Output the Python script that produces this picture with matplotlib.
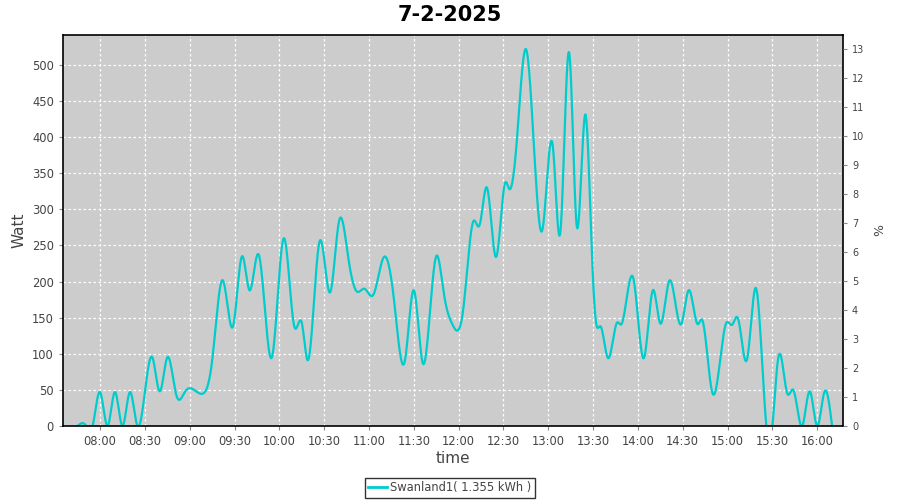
import numpy as np
import matplotlib
matplotlib.use("Agg")
import matplotlib.pyplot as plt
from matplotlib.lines import Line2D

# ---- data ----
times = ["07:45", "07:50", "07:55", "08:00", "08:05", "08:10", "08:15", "08:20", "08:25",
         "08:35", "08:40", "08:45", "08:51", "08:57", "09:05", "09:09", "09:15", "09:22",
         "09:29", "09:35", "09:40", "09:46", "09:55", "10:03", "10:10", "10:15", "10:19",
         "10:27", "10:34", "10:40", "10:46", "10:52", "10:57", "11:03", "11:10", "11:17", "11:24",
         "11:30", "11:36", "11:45", "11:50", "11:56", "12:03", "12:07", "12:10", "12:14", "12:19",
         "12:25", "12:31", "12:34", "12:39", "12:45", "12:56", "13:03", "13:08", "13:14",
         "13:19", "13:25", "13:29", "13:32", "13:35", "13:40", "13:46", "13:49", "13:57", "14:04",
         "14:10", "14:15", "14:21", "14:29", "14:34", "14:40", "14:43", "14:50", "14:59",
         "15:03", "15:07", "15:13", "15:19", "15:26", "15:30", "15:34", "15:40", "15:44",
         "15:50", "15:55", "16:00", "16:05", "16:10"]
watts = [0, 2, 0, 47, 0, 47, 0, 47, 0,
         95, 48, 95, 43, 48, 47, 45, 90, 202,
         138, 235, 188, 238, 95, 260, 138, 143, 91,
         256, 185, 284, 235, 186, 190, 182, 234, 170, 90,
         188, 87, 235, 185, 140, 160, 245, 284, 278, 330,
         234, 336, 328, 396, 522, 271, 388, 267, 517,
         278, 431, 250, 143, 138, 94, 143, 141, 204, 94,
         188, 142, 201, 141, 188, 141, 147, 45, 142,
         140, 149, 92, 191, 0, 0, 95, 45, 50,
         0, 48, 0, 48, 0]
xtick_labels = ["08:00", "08:30", "09:00", "09:30", "10:00", "10:30", "11:00", "11:30",
                "12:00", "12:30", "13:00", "13:30", "14:00", "14:30", "15:00", "15:30", "16:00"]
yticks_left = [0, 50, 100, 150, 200, 250, 300, 350, 400, 450, 500]
yticks_right = list(range(0, 14))
title = "7-2-2025"
series_label = "Swanland1( 1.355 kWh )"


def to_min(s):
    h, m = s.split(":")
    return int(h) * 60 + int(m)


def natural_spline(x, y, xs):
    x = np.asarray(x, float)
    y = np.asarray(y, float)
    n = len(x)
    h = np.diff(x)
    A = np.zeros((n, n))
    b = np.zeros(n)
    A[0, 0] = 1
    A[-1, -1] = 1
    for i in range(1, n - 1):
        A[i, i - 1] = h[i - 1]
        A[i, i] = 2 * (h[i - 1] + h[i])
        A[i, i + 1] = h[i]
        b[i] = 6 * ((y[i + 1] - y[i]) / h[i] - (y[i] - y[i - 1]) / h[i - 1])
    M = np.linalg.solve(A, b)
    idx = np.clip(np.searchsorted(x, xs) - 1, 0, n - 2)
    x0, x1 = x[idx], x[idx + 1]
    hh = x1 - x0
    t0 = x1 - xs
    t1 = xs - x0
    return (M[idx] * t0 ** 3 / (6 * hh) + M[idx + 1] * t1 ** 3 / (6 * hh)
            + (y[idx] / hh - M[idx] * hh / 6) * t0
            + (y[idx + 1] / hh - M[idx + 1] * hh / 6) * t1)


tx = np.array([to_min(t) for t in times], float)
xs = np.linspace(tx[0], tx[-1], 2000)
ys = natural_spline(tx, watts, xs)

cyan = "#00CCCC"
txt = "#444444"

fig = plt.figure(figsize=(9, 5), dpi=100)
ax = fig.add_axes([0.07, 0.148, 0.8667, 0.782])
ax.set_facecolor("#CCCCCC")
ax.plot(xs, ys, color=cyan, lw=1.6, solid_joinstyle="round")

xt = [to_min(s) for s in xtick_labels]
ax.set_xticks(xt)
ax.set_xticklabels(xtick_labels)
ax.set_xlim(455.2, 977.3)
ax.set_ylim(0, 541.4)
ax.set_yticks(yticks_left)
ax.grid(True, color="white", linestyle=(0, (2, 2)), lw=0.9)
ax.set_axisbelow(True)
for s in ax.spines.values():
    s.set_color("black")
    s.set_linewidth(1.2)
ax.tick_params(axis="both", colors="#888888", labelcolor=txt, labelsize=8.3,
               direction="out", length=3)
ax.set_ylabel("Watt", fontsize=11, color=txt)
ax.set_xlabel("time", fontsize=11, color=txt, labelpad=2)

ax2 = ax.twinx()
ax2.set_ylim(0, 541.4 / 40.16)
ax2.set_yticks(yticks_right)
ax2.tick_params(axis="y", colors="#888888", labelcolor=txt, labelsize=7,
                direction="out", length=3)
ax2.set_ylabel("%", fontsize=9, color=txt, labelpad=6)
for s in ax2.spines.values():
    s.set_visible(False)

fig.text(0.5, 0.97, title, ha="center", va="center", fontsize=15, fontweight="bold")

handle = Line2D([], [], color=cyan, lw=2)
leg = fig.legend([handle], [series_label], loc="center", bbox_to_anchor=(0.5, 0.024),
                 frameon=True, fancybox=False, fontsize=8.3, handlelength=1.6,
                 handletextpad=0.3, borderpad=0.3, borderaxespad=0)
leg.get_frame().set_edgecolor("black")
leg.get_frame().set_linewidth(1.0)
for t in leg.get_texts():
    t.set_color(txt)

fig.savefig("out.png", dpi=100)
